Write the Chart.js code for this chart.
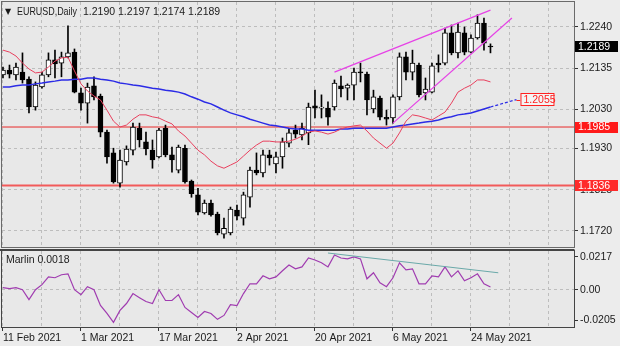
<!DOCTYPE html>
<html>
<head>
<meta charset="utf-8">
<script src="https://cdn.jsdelivr.net/npm/chart.js@4.4.1/dist/chart.umd.min.js"></script>
<style>
  html, body { margin: 0; padding: 0; background: #ececec; }
  #wrap { position: relative; width: 620px; height: 346px; overflow: hidden; }
  #priceChart { position: absolute; left: 0; top: 0; }
  #oscChart { position: absolute; left: 0; top: 249px; }
</style>
</head>
<body>
<div id="wrap">
  <canvas id="priceChart" width="620" height="249"></canvas>
  <canvas id="oscChart" width="620" height="97"></canvas>
</div>
<script>
/* ===== Data ===== */
const symbolName = "EURUSD,Daily";
const indicatorName = "Marlin";

const dateLabels = ["11 Feb 2021", "1 Mar 2021", "17 Mar 2021", "2 Apr 2021", "20 Apr 2021", "6 May 2021", "24 May 2021"];
const dateLabelBars = [0, 12, 24, 36, 48, 60, 72];

const priceTicks = [1.1720, 1.1825, 1.1930, 1.2030, 1.2135, 1.2240];
const marlinTicks = [-0.0205, 0, 0.0217];
const marlinTickLabels = ["-0.0205", "0.00", "0.0217"];

const opens = [
  1.2118, 1.2130, 1.2118, 1.2125, 1.2107, 1.2036, 1.2087, 1.2118, 1.2156, 1.2148,
  1.2164, 1.2176, 1.2072, 1.2046, 1.2090, 1.2064, 1.1972, 1.1919, 1.1842, 1.1896,
  1.1926, 1.1982, 1.1947, 1.1926, 1.1909, 1.1982, 1.1914, 1.1875, 1.1931, 1.1847,
  1.1812, 1.1766, 1.1791, 1.1763, 1.1712, 1.1715, 1.1773, 1.1753, 1.1806, 1.1875,
  1.1868, 1.1914, 1.1891, 1.1909, 1.1944, 1.1977, 1.1965, 1.1970, 1.2039, 1.2033,
  1.2033, 1.2036, 1.2090, 1.2084, 1.2092, 1.2125, 1.2120, 1.2031, 1.2059, 1.2010,
  1.2008, 1.2062, 1.2164, 1.2125, 1.2143, 1.2072, 1.2074, 1.2148, 1.2148, 1.2225,
  1.2174, 1.2225, 1.2176, 1.2212, 1.2250, 1.2190
];
const highs = [
  1.2138, 1.2143, 1.2148, 1.2174, 1.2113, 1.2100, 1.2125, 1.2174, 1.2181, 1.2176,
  1.2243, 1.2184, 1.2084, 1.2097, 1.2113, 1.2069, 1.1977, 1.1931, 1.1926, 1.1937,
  1.1995, 1.1995, 1.1972, 1.1952, 1.1982, 1.1990, 1.1934, 1.1939, 1.1939, 1.1850,
  1.1829, 1.1799, 1.1799, 1.1768, 1.1753, 1.1781, 1.1786, 1.1819, 1.1883, 1.1919,
  1.1926, 1.1926, 1.1921, 1.1957, 1.1982, 1.1990, 1.1995, 1.2046, 1.2079, 1.2067,
  1.2049, 1.2105, 1.2115, 1.2095, 1.2135, 1.2148, 1.2125, 1.2079, 1.2064, 1.2028,
  1.2067, 1.2174, 1.2176, 1.2181, 1.2148, 1.2110, 1.2148, 1.2169, 1.2237, 1.2245,
  1.2250, 1.2240, 1.2220, 1.2271, 1.2263, 1.2197
];
const lows = [
  1.2110, 1.2110, 1.2105, 1.2097, 1.2021, 1.2028, 1.2084, 1.2113, 1.2110, 1.2113,
  1.2161, 1.2072, 1.2028, 1.1995, 1.2054, 1.1960, 1.1893, 1.1842, 1.1832, 1.1888,
  1.1914, 1.1934, 1.1914, 1.1880, 1.1906, 1.1909, 1.1870, 1.1868, 1.1842, 1.1806,
  1.1761, 1.1763, 1.1758, 1.1710, 1.1702, 1.1710, 1.1748, 1.1735, 1.1781, 1.1863,
  1.1858, 1.1888, 1.1868, 1.1880, 1.1934, 1.1957, 1.1952, 1.1940, 1.2008, 1.2008,
  1.1990, 1.2028, 1.2062, 1.2054, 1.2054, 1.2100, 1.2016, 1.2021, 1.2003, 1.1990,
  1.1995, 1.2054, 1.2105, 1.2105, 1.2062, 1.2054, 1.2072, 1.2125, 1.2143, 1.2169,
  1.2161, 1.2169, 1.2174, 1.2209, 1.2181, 1.2174
];
const closes = [
  1.2130, 1.2120, 1.2138, 1.2105, 1.2036, 1.2092, 1.2118, 1.2156, 1.2146, 1.2164,
  1.2174, 1.2074, 1.2046, 1.2087, 1.2062, 1.1972, 1.1909, 1.1845, 1.1901, 1.1929,
  1.1985, 1.1952, 1.1929, 1.1901, 1.1977, 1.1914, 1.1901, 1.1934, 1.1845, 1.1815,
  1.1768, 1.1791, 1.1761, 1.1715, 1.1727, 1.1776, 1.1758, 1.1812, 1.1875, 1.1868,
  1.1914, 1.1906, 1.1909, 1.1947, 1.1970, 1.1967, 1.1982, 1.2036, 1.2033, 1.2036,
  1.2010, 1.2097, 1.2082, 1.2092, 1.2125, 1.2123, 1.2054, 1.2062, 1.2010, 1.2005,
  1.2062, 1.2164, 1.2125, 1.2148, 1.2067, 1.2082, 1.2141, 1.2143, 1.2225, 1.2174,
  1.2227, 1.2176, 1.2212, 1.2250, 1.2199, 1.2189
];

// red moving average
const maRed = [
  1.2181, 1.2176, 1.2166, 1.2148, 1.2133, 1.2123, 1.2125, 1.2138, 1.2153, 1.2161,
  1.2163, 1.2128, 1.2095, 1.2077, 1.2064, 1.2054, 1.2028, 1.2000, 1.1985, 1.1990,
  1.2005, 1.2016, 1.2016, 1.2011, 1.2008, 1.2000, 1.1993, 1.1975, 1.1962, 1.1944,
  1.1926, 1.1914, 1.1898, 1.1886, 1.1880, 1.1888, 1.1896, 1.1911, 1.1926, 1.1939,
  1.1949, 1.1949, 1.1947, 1.1947, 1.1949, 1.1954, 1.1962, 1.1972, 1.1975, 1.1972,
  1.1967, 1.1972, 1.1980, 1.1985, 1.1988, 1.1990, 1.1975, 1.1957, 1.1944, 1.1931,
  1.1944, 1.1970, 1.2000, 1.2016, 1.2013, 1.2008, 1.2003, 1.2013, 1.2023, 1.2046,
  1.2074, 1.2084, 1.2092, 1.2105, 1.2105, 1.2100
];
// blue moving average
const maBlue = [
  1.2087, 1.2087, 1.2090, 1.2092, 1.2092, 1.2095, 1.2097, 1.2100, 1.2102, 1.2105,
  1.2105, 1.2107, 1.2107, 1.2110, 1.2110, 1.2107, 1.2105, 1.2102, 1.2097, 1.2095,
  1.2092, 1.2090, 1.2087, 1.2084, 1.2082, 1.2079, 1.2077, 1.2074, 1.2069, 1.2062,
  1.2056, 1.2049, 1.2044, 1.2036, 1.2028, 1.2021, 1.2016, 1.2011, 1.2005, 1.2000,
  1.1995, 1.1990, 1.1988, 1.1985, 1.1982, 1.1980, 1.1980, 1.1977, 1.1977, 1.1977,
  1.1977, 1.1977, 1.1980, 1.1980, 1.1982, 1.1982, 1.1982, 1.1982, 1.1982, 1.1982,
  1.1985, 1.1988, 1.1990, 1.1993, 1.1995, 1.1998, 1.2000, 1.2003, 1.2008, 1.2011,
  1.2016, 1.2018, 1.2021, 1.2026, 1.2031, 1.2036
];
const marlin = [
  0.0013, 0.0007, 0.0013, 0.0000, -0.0066, 0.0000, 0.0033, 0.0085, 0.0079, 0.0099,
  0.0105, 0.0000, -0.0033, 0.0020, 0.0000, -0.0105, -0.0158, -0.0217, -0.0138, -0.0092,
  -0.0026, -0.0053, -0.0079, -0.0092, 0.0000, -0.0072, -0.0072, -0.0033, -0.0118, -0.0151,
  -0.0184, -0.0145, -0.0158, -0.0197, -0.0171, -0.0099, -0.0105, -0.0026, 0.0039, 0.0039,
  0.0092, 0.0072, 0.0085, 0.0125, 0.0164, 0.0138, 0.0151, 0.0210, 0.0197, 0.0178,
  0.0151, 0.0230, 0.0210, 0.0204, 0.0217, 0.0204, 0.0072, 0.0112, 0.0046, 0.0020,
  0.0079, 0.0178, 0.0131, 0.0138, 0.0039, 0.0039, 0.0092, 0.0085, 0.0151, 0.0085,
  0.0125, 0.0059, 0.0079, 0.0105, 0.0039, 0.0018
];

const levelPrices = [1.1985, 1.1836];
const lastPrice = 1.2189;
const channelTopBars = [51, 75];
const channelTopPrices = [1.2125, 1.2283];
const channelBottomBars = [60, 78.3];
const channelBottomPrices = [1.1995, 1.2263];
const blueProjBars = [75, 79];
const blueProjPrices = [1.2036, 1.2055];
const marlinTrendBars = [50, 76.2];
const marlinTrendValues = [0.0243, 0.0112];

/* ===== Look ===== */
const FONT = "'Liberation Sans', Arial, sans-serif";
const TEXT = "#1a1a1a";
const PLOT_BG = "#e8e8e8";
const GRID = "#bdbdbd";
const X_MIN = -0.15;
const X_MAX = 87.85;
const GRID_STEP = 6;

/* ===== Helpers ===== */
function pts(xs, ys) {
  return xs.map((x, i) => ({ x, y: ys[i] }));
}

function gridTicks(scale) {
  const ticks = [];
  for (let v = 0; v <= X_MAX; v += GRID_STEP) ticks.push({ value: v });
  scale.ticks = ticks;
}

// keep Chart.js from shrinking the plot to fit half of the edge labels
function noPad(scale) {
  scale.paddingTop = 0;
  scale.paddingBottom = 0;
  scale.paddingLeft = 0;
  scale.paddingRight = 0;
}

function tag(ctx, x, yMid, w, h, fill, stroke, text, color) {
  ctx.fillStyle = fill;
  ctx.fillRect(x, Math.round(yMid - h / 2), w, h);
  if (stroke) {
    ctx.strokeStyle = stroke;
    ctx.lineWidth = 1;
    ctx.strokeRect(x + 0.5, Math.round(yMid - h / 2) + 0.5, w - 1, h - 1);
  }
  ctx.fillStyle = color;
  ctx.textBaseline = "middle";
  ctx.textAlign = "left";
  ctx.fillText(text, x + 3, yMid + 0.5);
}

/* ===== Plugins ===== */
const panelFrame = {
  id: "panelFrame",
  beforeDraw(chart) {
    const { ctx, chartArea: a } = chart;
    ctx.save();
    ctx.fillStyle = PLOT_BG;
    ctx.fillRect(a.left, a.top, a.width, a.height);
    ctx.restore();
  },
  afterDraw(chart, args, opts) {
    const { ctx, chartArea: a } = chart;
    ctx.save();
    ctx.strokeStyle = opts.color || "#555";
    ctx.lineWidth = 1;
    ctx.strokeRect(a.left - 0.5, a.top - 0.5, a.width + 1, a.height + 1);
    if (opts.topWidth) {
      ctx.lineWidth = opts.topWidth;
      ctx.beginPath();
      ctx.moveTo(0, a.top - opts.topWidth / 2);
      ctx.lineTo(a.right + 0.5, a.top - opts.topWidth / 2);
      ctx.stroke();
    }
    ctx.restore();
  },
};

const priceTags = {
  id: "priceTags",
  afterDraw(chart) {
    const { ctx, chartArea: a, scales } = chart;
    const y = scales.y;
    const x = scales.x;
    ctx.save();

    // title
    ctx.fillStyle = TEXT;
    ctx.font = `8px 'DejaVu Sans', ${FONT}`;
    ctx.textBaseline = "alphabetic";
    ctx.fillText("\u25BC", 5, 14);
    ctx.font = `10.5px ${FONT}`;
    ctx.fillText(symbolName, 17, 15, 60);
    const last = opens.length - 1;
    const ohlc = [opens[last], highs[last], lows[last], closes[last]].map((v) => v.toFixed(4)).join(" ");
    ctx.fillText(ohlc, 83, 15);

    // axis tags
    tag(ctx, a.right + 1, y.getPixelForValue(lastPrice), 43, 11, "#000", null, lastPrice.toFixed(4), "#fff");
    tag(ctx, a.right + 1, y.getPixelForValue(levelPrices[0]), 43, 11, "#ff1a1a", null, levelPrices[0].toFixed(4), "#fff");
    tag(ctx, a.right + 1, y.getPixelForValue(levelPrices[1]), 43, 11, "#ff2a2a", null, levelPrices[1].toFixed(4), "#fff");

    // projection tag
    const px = x.getPixelForValue(blueProjBars[1]);
    const py = y.getPixelForValue(blueProjPrices[1]);
    ctx.strokeStyle = "#ff2020";
    ctx.lineWidth = 1;
    ctx.beginPath();
    ctx.moveTo(px, Math.round(py) + 0.5);
    ctx.lineTo(px + 4, Math.round(py) + 0.5);
    ctx.stroke();
    tag(ctx, px + 4, py, 34, 13, "#f4f4f4", "#ff2020", blueProjPrices[1].toFixed(4), "#ff2020");
    ctx.restore();
  },
};

const oscTitle = {
  id: "oscTitle",
  afterDraw(chart) {
    const { ctx, chartArea: a } = chart;
    ctx.save();
    ctx.font = `10.5px ${FONT}`;
    ctx.fillStyle = TEXT;
    ctx.textBaseline = "alphabetic";
    ctx.fillText(`${indicatorName} ${marlin[marlin.length - 1].toFixed(4)}`, 6, a.top + 12);
    ctx.restore();
  },
};

/* ===== Price chart ===== */
const barIdx = opens.map((_, i) => i);
const wickData = barIdx.map((i) => ({ x: i, y: [lows[i], highs[i]] }));
const bodyData = barIdx.map((i) => ({ x: i, y: [opens[i], closes[i]] }));
const bodyFill = barIdx.map((i) => (closes[i] >= opens[i] ? "#ffffff" : "#000000"));

const lineBase = { type: "line", pointRadius: 0, tension: 0, fill: false };

new Chart(document.getElementById("priceChart"), {
  type: "bar",
  data: {
    datasets: [
      { ...lineBase, order: 6, data: pts([X_MIN, X_MAX], [levelPrices[0], levelPrices[0]]), borderColor: "#e82a2a", borderWidth: 1 },
      { ...lineBase, order: 6, data: pts([X_MIN, X_MAX], [levelPrices[1], levelPrices[1]]), borderColor: "#f25a5a", borderWidth: 2 },
      { type: "bar", order: 5, data: wickData, backgroundColor: "#000", barThickness: 1, grouped: false },
      {
        type: "bar", order: 4, data: bodyData, backgroundColor: bodyFill, borderColor: "#000",
        borderWidth: 1, borderSkipped: false, barThickness: 5, minBarLength: 1, grouped: false,
      },
      { ...lineBase, order: 2, data: pts(barIdx, maBlue), borderColor: "#2b2be6", borderWidth: 1.5 },
      { ...lineBase, order: 2, data: pts(blueProjBars, blueProjPrices), borderColor: "#2b2be6", borderWidth: 1.2, borderDash: [3, 2] },
      { ...lineBase, order: 1, data: pts(barIdx, maRed), borderColor: "#e8405e", borderWidth: 1 },
      { ...lineBase, order: 1, data: pts(channelTopBars, channelTopPrices), borderColor: "#e642e6", borderWidth: 1.2 },
      { ...lineBase, order: 1, data: pts(channelBottomBars, channelBottomPrices), borderColor: "#e642e6", borderWidth: 1.2 },
    ],
  },
  options: {
    responsive: false,
    animation: false,
    events: [],
    layout: { padding: { left: 2, top: 2, right: 0, bottom: 2 } },
    plugins: { legend: { display: false }, tooltip: { enabled: false }, panelFrame: { color: "#6a6a6a" } },
    scales: {
      x: {
        type: "linear", min: X_MIN, max: X_MAX, offset: false,
        afterBuildTicks: gridTicks,
        afterFit: (s) => { s.height = 0; noPad(s); },
        ticks: { display: false },
        grid: { color: GRID, drawTicks: false, offset: false },
        border: { display: false, dash: [3, 3] },
      },
      y: {
        type: "linear", position: "right", min: 1.16792, max: 1.23037,
        afterBuildTicks: (s) => { s.ticks = priceTicks.map((v) => ({ value: v })); },
        afterFit: (s) => { s.width = 46; noPad(s); },
        ticks: { color: TEXT, font: { family: FONT, size: 10.5 }, padding: 2, callback: (v) => Number(v).toFixed(4) },
        grid: { color: GRID, tickColor: "#333", tickLength: 4 },
        border: { display: false, dash: [3, 3] },
      },
    },
  },
  plugins: [panelFrame, priceTags],
});

/* ===== Oscillator chart ===== */
new Chart(document.getElementById("oscChart"), {
  type: "line",
  data: {
    datasets: [
      { ...lineBase, data: pts(marlinTrendBars, marlinTrendValues), borderColor: "#6aa9a9", borderWidth: 1 },
      { ...lineBase, data: pts(barIdx, marlin), borderColor: "#a03cb0", borderWidth: 1.2 },
    ],
  },
  options: {
    responsive: false,
    animation: false,
    events: [],
    layout: { padding: { left: 2, top: 2, right: 0, bottom: 0 } },
    plugins: { legend: { display: false }, tooltip: { enabled: false }, panelFrame: { color: "#444", topWidth: 2 } },
    scales: {
      x: {
        type: "linear", min: X_MIN, max: X_MAX, offset: false,
        afterBuildTicks: gridTicks,
        afterFit: (s) => { s.height = 19; noPad(s); },
        ticks: {
          color: TEXT, font: { family: FONT, size: 10.5 }, padding: 1, align: "start",
          autoSkip: false, maxRotation: 0,
          callback: (v) => {
            const k = dateLabelBars.indexOf(v);
            return k >= 0 ? dateLabels[k] : "";
          },
        },
        grid: {
          color: GRID, tickLength: 4, offset: false,
          tickColor: (c) => (dateLabelBars.includes(c.tick && c.tick.value) ? "#333" : "rgba(0,0,0,0)"),
        },
        border: { display: false, dash: [3, 3] },
      },
      y: {
        type: "linear", position: "right", min: -0.02477, max: 0.02564,
        afterBuildTicks: (s) => { s.ticks = marlinTicks.map((v) => ({ value: v })); },
        afterFit: (s) => { s.width = 46; noPad(s); },
        ticks: {
          color: TEXT, font: { family: FONT, size: 10.5 }, padding: 2,
          callback: (v) => marlinTickLabels[marlinTicks.indexOf(v)],
        },
        grid: {
          tickColor: "#333", tickLength: 4,
          color: (c) => (c.tick && c.tick.value === 0 ? GRID : "rgba(0,0,0,0)"),
        },
        border: { display: false, dash: [3, 3] },
      },
    },
  },
  plugins: [panelFrame, oscTitle],
});
</script>
</body>
</html>
